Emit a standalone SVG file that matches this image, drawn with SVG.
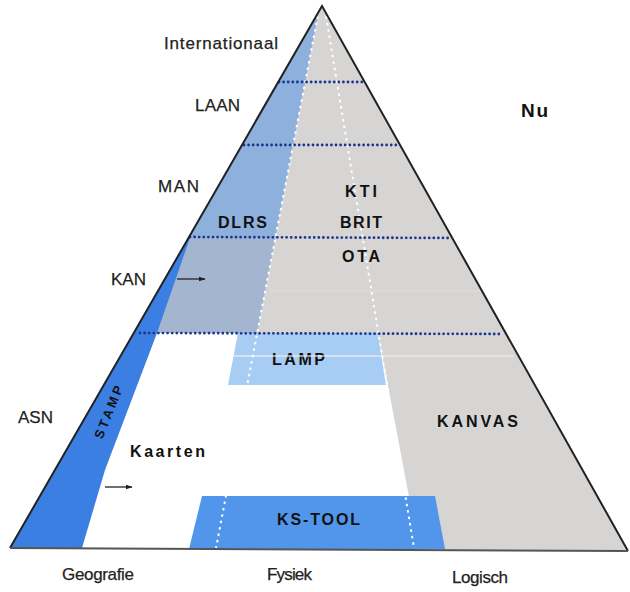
<svg xmlns="http://www.w3.org/2000/svg" width="630" height="592" viewBox="0 0 630 592">
<style>
.lbl{font-family:"Liberation Sans",Arial,sans-serif;font-size:17px;fill:#222;stroke:#222;stroke-width:0.25}
.bold{font-family:"Liberation Sans",Arial,sans-serif;font-size:16px;font-weight:bold;fill:#111}
.sep{fill:none;stroke:#1b3592;stroke-width:2.8;stroke-linecap:round;stroke-dasharray:0 4.6}
.wdot{fill:none;stroke:#fff;stroke-width:2;stroke-dasharray:2.5 4}
.arrow{fill:none;stroke:#222;stroke-width:1.3}
</style>
<defs>
<marker id="ah" viewBox="0 0 10 10" refX="9" refY="5" markerWidth="7" markerHeight="7" orient="auto" markerUnits="userSpaceOnUse">
<path d="M0,1.5 L10,5 L0,8.5 Z" fill="#222"/>
</marker>
</defs>
<rect width="630" height="592" fill="#fff"/>

<g id="logisch-region">
<polygon points="322,6 628,551 419,549.5 378,333 134,333" fill="#d6d5d3"/>
<line x1="270" y1="291" x2="480" y2="291" stroke="#f1e8e6" stroke-width="1.2" opacity="0.5"/>
</g>
<g id="upper-geo-region">
<polygon points="322,6 189,237 275.6,237 319,10" fill="#8eb0dc"/>
</g>
<g id="lower-geo-region">
<polygon points="189,237 134,333 257.2,333 275.6,237" fill="#a3b5cf"/>
</g>
<g id="stamp">
<polygon points="192,232 10,548 82,548 105,470 157,333" fill="#3b7fe3"/>
<text class="bold" transform="translate(108,412) rotate(-68)" x="-28" y="5" textLength="56" lengthAdjust="spacing" style="font-size:13px">STAMP</text>
</g>
<g id="lamp">
<polygon points="238,333 378,333 386,385 228,385" fill="#a7cdf5"/>
<text class="bold" x="272" y="365" textLength="53" lengthAdjust="spacing">LAMP</text>
</g>
<g id="ks-tool">
<polygon points="202,496 435,496 445,549 189,549" fill="#5196ea"/>
<text class="bold" x="277" y="525" textLength="83" lengthAdjust="spacing">KS-TOOL</text>
</g>
<line x1="233" y1="356" x2="514" y2="356" stroke="#f6eeec" stroke-width="1.6" opacity="0.8"/>

<g id="dotted-dividers">
<line class="wdot" x1="319" y1="10" x2="216" y2="548"/>
<line class="wdot" x1="325" y1="10" x2="414" y2="548"/>
<line class="sep" x1="279" y1="82" x2="365" y2="82"/>
<line class="sep" x1="244" y1="145" x2="399" y2="145"/>
<line class="sep" x1="190" y1="237" x2="452" y2="238"/>
<line class="sep" x1="140" y1="333" x2="503" y2="334"/>
</g>

<g id="pyramid-outline">
<polyline points="10,548 322,6 628,551" fill="none" stroke="#222" stroke-width="2"/>
<line x1="10" y1="548" x2="628" y2="551" stroke="#555" stroke-width="2"/>
</g>

<g id="connectors">
<line class="arrow" x1="177" y1="279" x2="205" y2="279" marker-end="url(#ah)"/>
<line class="arrow" x1="105" y1="487" x2="132" y2="487" marker-end="url(#ah)"/>
</g>

<g id="labels-geo">
<text class="lbl" x="164" y="49" textLength="114" lengthAdjust="spacing">Internationaal</text>
<text class="lbl" x="195" y="111" textLength="45" lengthAdjust="spacing">LAAN</text>
<text class="lbl" x="158" y="192" textLength="41" lengthAdjust="spacing">MAN</text>
<text class="lbl" x="111" y="285" textLength="35" lengthAdjust="spacing">KAN</text>
<text class="lbl" x="18" y="423" textLength="35" lengthAdjust="spacing">ASN</text>
</g>
<g id="label-nu">
<text class="bold" x="521" y="117" textLength="27" lengthAdjust="spacing" style="font-size:19px">Nu</text>
</g>
<g id="node-kti"><text class="bold" x="345" y="197" textLength="32" lengthAdjust="spacing">KTI</text></g>
<g id="node-dlrs"><text class="bold" x="218" y="228" textLength="49" lengthAdjust="spacing">DLRS</text></g>
<g id="node-brit"><text class="bold" x="340" y="228" textLength="42" lengthAdjust="spacing">BRIT</text></g>
<g id="node-ota"><text class="bold" x="342" y="262" textLength="38" lengthAdjust="spacing">OTA</text></g>
<g id="node-kanvas"><text class="bold" x="437" y="427" textLength="81" lengthAdjust="spacing">KANVAS</text></g>
<g id="node-kaarten"><text class="bold" x="130" y="457" textLength="75" lengthAdjust="spacing">Kaarten</text></g>
<g id="axis-labels">
<text class="lbl" x="62" y="580" textLength="72" lengthAdjust="spacing">Geografie</text>
<text class="lbl" x="267" y="580" textLength="45" lengthAdjust="spacing">Fysiek</text>
<text class="lbl" x="452" y="583" textLength="56" lengthAdjust="spacing">Logisch</text>
</g>
</svg>
